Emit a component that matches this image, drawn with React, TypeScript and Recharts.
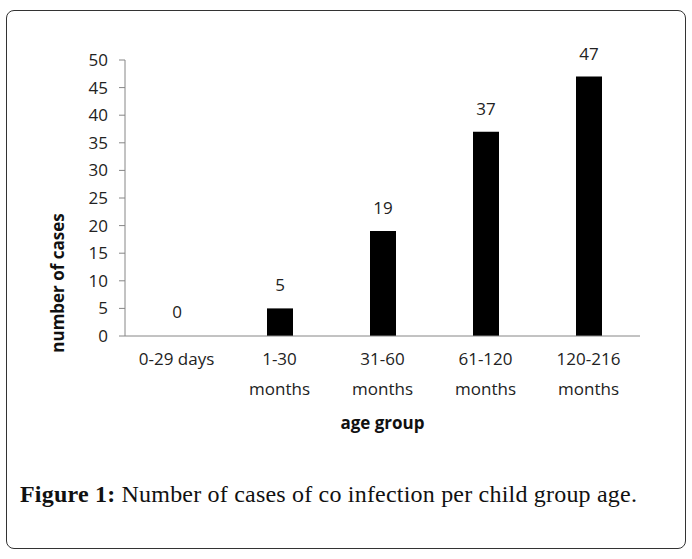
import React from 'react';
import { BarChart, Bar, XAxis, YAxis, LabelList, Label, Rectangle } from 'recharts';

const categories = ['0-29 days', '1-30 months', '31-60 months', '61-120 months', '120-216 months'];
const tickLines = [['0-29 days'], ['1-30', 'months'], ['31-60', 'months'], ['61-120', 'months'], ['120-216', 'months']];
const cases = [0, 5, 19, 37, 47];
const yTicks = [0, 5, 10, 15, 20, 25, 30, 35, 40, 45, 50];

const data = categories.map((c, i) => ({ name: c, value: cases[i], label: String(cases[i]) }));

const FONT = '"Open Sans", sans-serif';
const AXIS = '#868686';

const XTick = (props: any) => {
  const { x, y, index } = props;
  const lines = tickLines[index] || [];
  return (
    <g>
      {lines.map((l: string, i: number) => (
        <text key={i} x={x} y={y + 21 + i * 30} textAnchor="middle" fontSize={17} fill="#222" fontFamily={FONT}>
          {l}
        </text>
      ))}
    </g>
  );
};

const YLabel = () => (
  <text
    x={64}
    y={283}
    transform="rotate(-90 64 283)"
    textAnchor="middle"
    fontSize={17}
    fontWeight="bold"
    fill="#111"
    fontFamily={FONT}
  >
    number of cases
  </text>
);

const BarShape = (props: any) => {
  if (!props.value) return <g />;
  return <Rectangle {...props} />;
};

export default function App() {
  return (
    <div style={{ position: 'absolute', left: 0, top: 0, width: 692, height: 559, background: '#fff' }}>
      <div
        style={{
          position: 'absolute',
          left: 6,
          top: 10,
          width: 678,
          height: 537,
          border: '1px solid #333',
          borderRadius: 8,
        }}
      />
      <div style={{ position: 'absolute', left: 0, top: 0 }}>
        <BarChart width={692} height={440} data={data} margin={{ top: 60, right: 52, left: 0, bottom: 0 }} barCategoryGap={0}>
          <XAxis
            dataKey="name"
            axisLine={{ stroke: AXIS }}
            tickLine={false}
            tick={<XTick />}
            height={104}
            interval={0}
          >
            <Label value="age group" position="insideBottom" offset={11} fontSize={17} fontWeight="bold" fill="#111" fontFamily={FONT} />
          </XAxis>
          <YAxis
            domain={[0, 50]}
            ticks={yTicks}
            interval={0}
            width={125}
            axisLine={{ stroke: AXIS }}
            tickLine={{ stroke: AXIS }}
            tickSize={6}
            tickMargin={11}
            tick={{ fontSize: 17, fill: '#222', fontFamily: FONT }}
            label={<YLabel />}
          />
          <Bar dataKey="value" fill="#000" barSize={26} minPointSize={1} shape={<BarShape />} isAnimationActive={false}>
            <LabelList dataKey="label" position="top" offset={17} fontSize={17} fill="#222" fontFamily={FONT} />
          </Bar>
        </BarChart>
      </div>
      <div
        style={{
          position: 'absolute',
          left: 20,
          top: 481,
          fontSize: 24,
          letterSpacing: 0.2,
          fontFamily: '"Liberation Serif", serif',
          color: '#111',
          whiteSpace: 'nowrap',
        }}
      >
        <b>Figure 1:</b> Number of cases of co infection per child group age.
      </div>
    </div>
  );
}
